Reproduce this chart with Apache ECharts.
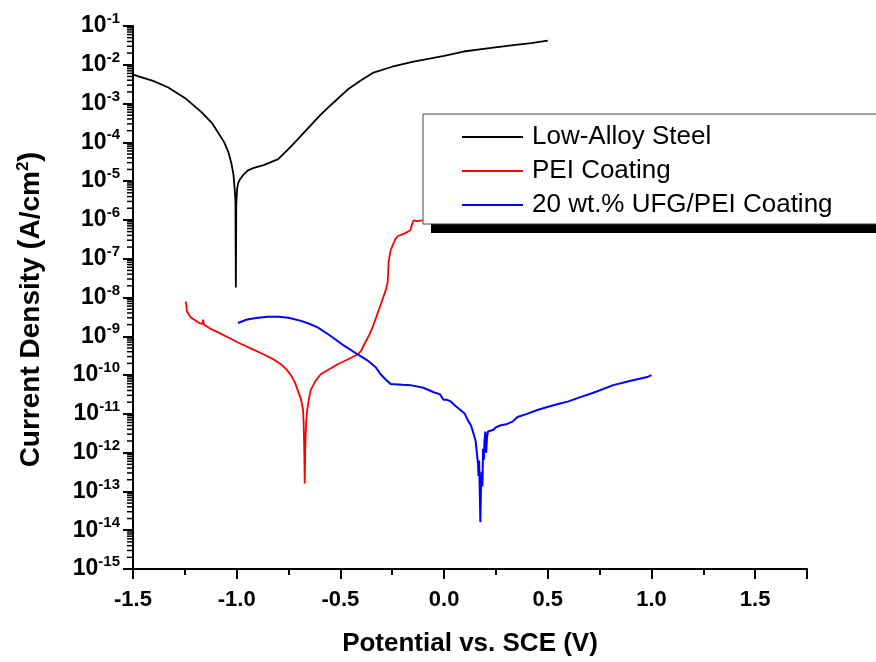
<!DOCTYPE html>
<html>
<head>
<meta charset="utf-8">
<script src="https://cdn.jsdelivr.net/npm/echarts@6/dist/echarts.min.js"></script>
<style>
  html, body { margin: 0; padding: 0; background: #fff; }
  #main { width: 876px; height: 662px; }
</style>
</head>
<body>
<div id="main"></div>
<script>
// Low-Alloy Steel (black)
var steelPotential = [-1.5, -1.40, -1.33, -1.25, -1.17, -1.12, -1.09, -1.06, -1.04, -1.025, -1.015, -1.009,
  -1.006, -1.004, -1.002, -0.998, -0.993, -0.985, -0.966, -0.946, -0.917, -0.87, -0.80, -0.74, -0.706,
  -0.65, -0.595, -0.53, -0.465, -0.40, -0.34, -0.25, -0.147, 0.0, 0.094, 0.2, 0.334, 0.42, 0.5];
var steelCurrent = [5.6e-3, 3.8e-3, 2.6e-3, 1.4e-3, 6.0e-4, 3.2e-4, 1.8e-4, 1.0e-4, 5.6e-5, 2.8e-5, 1.4e-5, 5.4e-6,
  3.2e-6, 1.8e-8, 2.5e-6, 6.3e-6, 8.9e-6, 1.1e-5, 1.5e-5, 1.9e-5, 2.2e-5, 2.6e-5, 3.7e-5, 7.6e-5, 1.2e-4,
  2.5e-4, 5.2e-4, 1.1e-3, 2.3e-3, 4.0e-3, 6.3e-3, 8.9e-3, 1.2e-2, 1.7e-2, 2.2e-2, 2.6e-2, 3.2e-2, 3.6e-2, 4.2e-2];

// PEI Coating (red)
var peiPotential = [-1.245, -1.24, -1.225, -1.206, -1.18, -1.165, -1.162, -1.158, -1.13, -1.09, -1.04, -0.994,
  -0.93, -0.869, -0.82, -0.787, -0.76, -0.739, -0.72, -0.706, -0.69, -0.68, -0.677, -0.674, -0.672, -0.669,
  -0.665, -0.66, -0.652, -0.643, -0.62, -0.595, -0.55, -0.513, -0.46, -0.417, -0.40, -0.388, -0.36, -0.34,
  -0.31, -0.282, -0.272, -0.267, -0.258, -0.248, -0.235, -0.224, -0.19, -0.162, -0.155, -0.147, -0.13, -0.104];
var peiCurrent = [7.8e-9, 4.5e-9, 3.2e-9, 2.7e-9, 2.2e-9, 2.1e-9, 2.7e-9, 2.0e-9, 1.6e-9, 1.26e-9, 9.3e-10, 6.9e-10,
  4.8e-10, 3.4e-10, 2.5e-10, 1.9e-10, 1.4e-10, 1.0e-10, 6.6e-11, 4.1e-11, 2.4e-11, 1.26e-11, 5.5e-12, 1.0e-12, 1.6e-13, 1.6e-12,
  6.3e-12, 1.26e-11, 2.4e-11, 4.1e-11, 7.1e-11, 1.05e-10, 1.45e-10, 1.9e-10, 2.6e-10, 3.4e-10, 4.2e-10, 5.8e-10, 1.1e-9, 2.0e-9,
  5.6e-9, 1.5e-8, 2.5e-8, 8.7e-8, 1.6e-7, 2.2e-7, 3.2e-7, 3.8e-7, 4.5e-7, 5.4e-7, 7.6e-7, 9.8e-7, 9.3e-7, 9.8e-7];

// 20 wt.% UFG/PEI Coating (blue)
var ufgPotential = [-0.994, -0.95, -0.898, -0.85, -0.80, -0.75, -0.69, -0.65, -0.61, -0.55, -0.484, -0.42, -0.37,
  -0.33, -0.306, -0.28, -0.258, -0.2, -0.162, -0.1, -0.05, -0.02, -0.003, 0.015, 0.031, 0.055, 0.079, 0.1, 0.113,
  0.13, 0.142, 0.152, 0.158, 0.161, 0.164, 0.166, 0.169, 0.172, 0.175, 0.178, 0.181, 0.185, 0.188, 0.192, 0.195,
  0.199, 0.203, 0.207, 0.212, 0.22, 0.238, 0.25, 0.27, 0.305, 0.33, 0.354, 0.40, 0.45, 0.498, 0.55, 0.60, 0.657,
  0.72, 0.816, 0.9, 0.98, 1.0];
var ufgCurrent = [2.2e-9, 2.7e-9, 3.0e-9, 3.2e-9, 3.2e-9, 3.0e-9, 2.5e-9, 2.1e-9, 1.7e-9, 1.05e-9, 5.8e-10, 3.5e-10, 2.4e-10,
  1.6e-10, 1.05e-10, 7.6e-11, 5.9e-11, 5.6e-11, 5.5e-11, 4.7e-11, 3.6e-11, 3.2e-11, 2.3e-11, 2.3e-11, 2.1e-11, 1.6e-11, 1.26e-11, 1.0e-11, 7.1e-12,
  5.0e-12, 3.1e-12, 2.0e-12, 1.0e-12, 9.5e-13, 5.0e-13, 2.5e-13, 6.3e-13, 1.0e-13, 1.6e-14, 1.26e-13, 3.2e-13, 1.35e-13, 1.26e-12, 6.6e-13, 2.0e-12,
  3.5e-12, 1.0e-12, 2.5e-12, 3.5e-12, 3.2e-12, 3.9e-12, 4.5e-12, 5.0e-12, 5.5e-12, 6.3e-12, 8.3e-12, 1.0e-11, 1.26e-11, 1.5e-11, 1.8e-11, 2.1e-11, 2.7e-11,
  3.5e-11, 5.5e-11, 7.1e-11, 8.9e-11, 1.0e-10];

var seriesNames = ['Low-Alloy Steel', 'PEI Coating', '20 wt.% UFG/PEI Coating'];
var seriesColors = ['#000000', '#ff0000', '#0000ff'];

function pairs(xs, ys) {
  return xs.map(function (x, i) { return [x, ys[i]]; });
}

// minor ticks at 2..9 x 10^n inside every decade of the log axis
var minorTickValues = [];
for (var e = -15; e < -1; e++) {
  for (var m = 2; m <= 9; m++) minorTickValues.push(m * Math.pow(10, e));
}

var font = 'Liberation Sans, Arial, sans-serif';
var myChart = echarts.init(document.getElementById('main'));

var option = {
  backgroundColor: '#fff',
  animation: false,
  grid: { left: 133, right: 69, top: 26, bottom: 89 },
  // legend frame with its offset shadow
  graphic: [
    { type: 'rect', z: 3, shape: { x: 431, y: 123, width: 460, height: 110 }, style: { fill: '#000' } },
    { type: 'rect', z: 3, shape: { x: 423, y: 114, width: 470, height: 110 },
      style: { fill: '#fff', stroke: '#444', lineWidth: 1 } }
  ],
  legend: {
    left: 423,
    top: 114,
    z: 5,
    orient: 'vertical',
    data: seriesNames,
    icon: 'rect',
    itemWidth: 61,
    itemHeight: 2,
    itemGap: 8,
    padding: [10, 20, 8, 39],
    textStyle: { fontFamily: font, fontSize: 26, color: '#000', lineHeight: 26, padding: [0, 0, 0, 4] }
  },
  xAxis: {
    type: 'value',
    min: -1.5,
    max: 1.75,
    interval: 0.5,
    name: 'Potential vs. SCE (V)',
    nameLocation: 'middle',
    nameGap: 62,
    nameTextStyle: { fontFamily: font, fontSize: 26, fontWeight: 'bold', color: '#000' },
    axisLine: { onZero: false, lineStyle: { color: '#000', width: 2 } },
    axisTick: { inside: false, length: 10, lineStyle: { color: '#000', width: 2 } },
    minorTick: { show: true, splitNumber: 2, length: 6, lineStyle: { color: '#000', width: 2 } },
    splitLine: { show: false },
    axisLabel: {
      margin: 20,
      showMaxLabel: false,
      fontFamily: font, fontSize: 22, fontWeight: 'bold', color: '#000',
      formatter: function (v) { return v.toFixed(1); }
    }
  },
  yAxis: {
    type: 'log',
    logBase: 10,
    min: 1e-15,
    max: 1e-1,
    interval: 1,
    name: '{t|Current Density }{p|(}{t|A/cm}{sup|2}{p|)}',
    nameLocation: 'middle',
    nameGap: 86,
    nameTextStyle: {
      padding: [0, 24, 0, 0],
      rich: {
        t: { fontFamily: font, fontSize: 28, fontWeight: 'bold', color: '#000' },
        p: { fontFamily: font, fontSize: 30, fontWeight: 'bold', color: '#000' },
        sup: { fontFamily: font, fontSize: 17, fontWeight: 'bold', color: '#000', padding: [0, 0, 15, 0] }
      }
    },
    axisLine: { onZero: false, lineStyle: { color: '#000', width: 2 } },
    axisTick: { inside: false, length: 10, lineStyle: { color: '#000', width: 2 } },
    splitLine: { show: false },
    axisLabel: {
      margin: 13,
      formatter: function (v) {
        var e = Math.round(Math.log10(v));
        return '{b|10}{s|' + e + '}';
      },
      rich: {
        b: { fontFamily: font, fontSize: 23, fontWeight: 'bold', color: '#000' },
        s: { fontFamily: font, fontSize: 15, fontWeight: 'bold', color: '#000', padding: [0, 0, 14, 0] }
      }
    }
  },
  series: [
    {
      name: seriesNames[0], type: 'line', showSymbol: false, color: seriesColors[0],
      lineStyle: { width: 1.8 }, data: pairs(steelPotential, steelCurrent)
    },
    {
      name: seriesNames[1], type: 'line', showSymbol: false, color: seriesColors[1],
      lineStyle: { width: 1.8 }, data: pairs(peiPotential, peiCurrent)
    },
    {
      name: seriesNames[2], type: 'line', showSymbol: false, color: seriesColors[2],
      lineStyle: { width: 2 }, data: pairs(ufgPotential, ufgCurrent)
    },
    {
      // minor log ticks on the left axis
      type: 'custom',
      silent: true,
      clip: false,
      z: 10,
      data: minorTickValues.map(function (v) { return [-1.5, v]; }),
      renderItem: function (params, api) {
        var p = api.coord([api.value(0), api.value(1)]);
        return {
          type: 'line',
          shape: { x1: p[0] - 6, y1: p[1], x2: p[0], y2: p[1] },
          style: { stroke: '#000', fill: null, lineWidth: 1.5 }
        };
      }
    }
  ]
};

myChart.setOption(option);
</script>
</body>
</html>
